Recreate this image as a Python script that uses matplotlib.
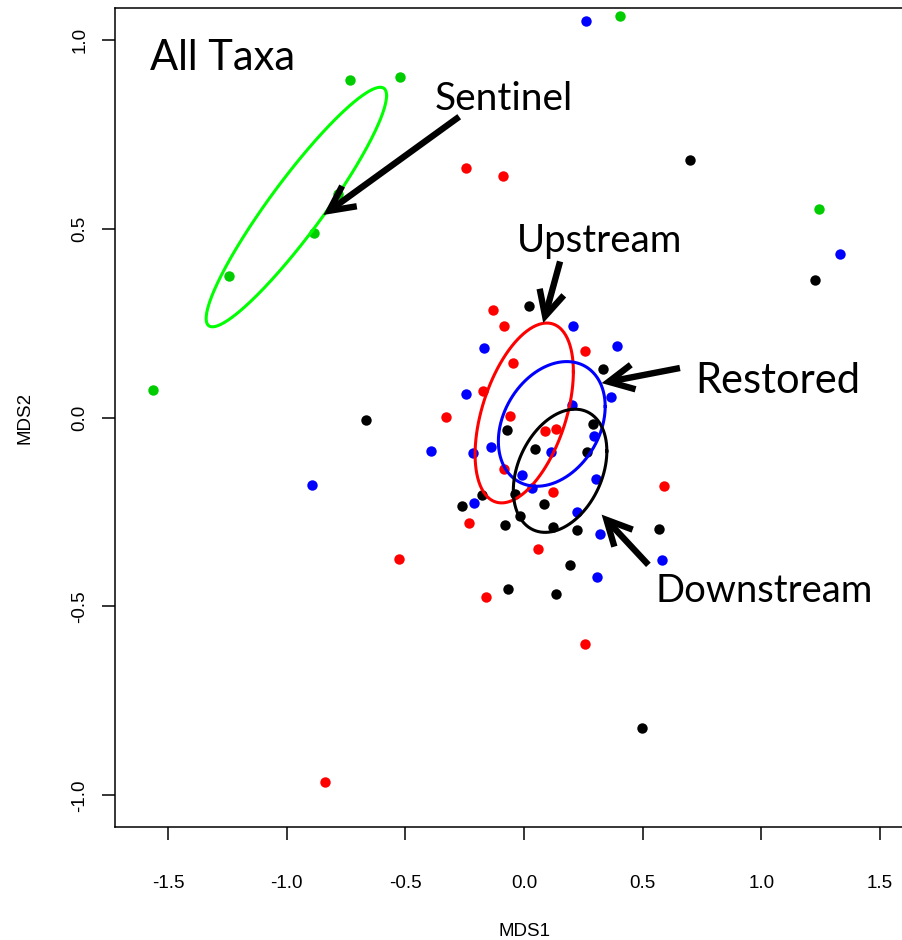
import numpy as np
import matplotlib
matplotlib.use("Agg")
import matplotlib.pyplot as plt
from matplotlib.patches import FancyArrowPatch

# ---------------- data ----------------
sentinel_x = [-0.733, -0.522, -0.782, -0.883, -1.243, -1.564, 0.404, 1.243]
sentinel_y = [0.893, 0.900, 0.591, 0.488, 0.375, 0.072, 1.062, 0.551]

upstream_x = [-0.244, -0.090, -0.132, -0.838, -0.525, -0.084, 0.258, -0.048, -0.174, -0.329,
              -0.059, 0.087, 0.133, -0.084, 0.122, 0.588, -0.233, 0.059, -0.161, 0.257]
upstream_y = [0.660, 0.638, 0.285, -0.964, -0.375, 0.241, 0.176, 0.144, 0.069, 0.002,
              0.003, -0.037, -0.030, -0.136, -0.196, -0.181, -0.279, -0.348, -0.474, -0.600]

restored_x = [0.261, 1.330, -0.893, -0.168, 0.205, 0.392, -0.244, 0.365, 0.201, 0.296, -0.393,
              -0.216, -0.139, 0.112, -0.008, 0.303, 0.034, -0.211, 0.222, 0.321, 0.580, 0.307]
restored_y = [1.049, 0.433, -0.179, 0.184, 0.241, 0.190, 0.062, 0.054, 0.032, -0.048, -0.089,
              -0.095, -0.079, -0.092, -0.152, -0.162, -0.187, -0.226, -0.249, -0.308, -0.378, -0.421]

downstream_x = [0.699, 1.224, -0.667, 0.020, 0.331, 0.289, -0.070, 0.045, 0.264, -0.177, -0.262,
                -0.039, 0.083, -0.017, -0.081, 0.121, 0.223, 0.567, 0.192, -0.069, 0.133, 0.496]
downstream_y = [0.681, 0.363, -0.006, 0.296, 0.128, -0.018, -0.033, -0.084, -0.091, -0.204, -0.234,
                -0.203, -0.229, -0.260, -0.284, -0.291, -0.299, -0.296, -0.391, -0.453, -0.466, -0.822]

# group ellipses: centre, x / y spread and correlation
ell_groups = ["Sentinel", "Upstream", "Restored", "Downstream"]
ell_cx = [-0.959, 0.001, 0.117, 0.152]
ell_cy = [0.557, 0.012, -0.017, -0.141]
ell_sx = [0.380, 0.207, 0.225, 0.197]
ell_sy = [0.317, 0.238, 0.165, 0.163]
ell_rho = [0.93, 0.46, 0.28, 0.32]

x_ticks = [-1.5, -1.0, -0.5, 0.0, 0.5, 1.0, 1.5]
y_ticks = [-1.0, -0.5, 0.0, 0.5, 1.0]

# ---------------- figure ----------------
W, H = 902, 940
fig = plt.figure(figsize=(W / 100, H / 100), dpi=100)
ax = fig.add_axes([115 / W, (H - 826.7) / H, 818 / W, 818.4 / H])
ax.set_xlim(-1.723, 1.723)
ax.set_ylim(-1.083, 1.083)

pt_col = {"Sentinel": "#00CD00", "Upstream": "#FF0000", "Restored": "#0000FF", "Downstream": "#000000"}
ell_col = {"Sentinel": "#00FF00", "Upstream": "#FF0000", "Restored": "#0000FF", "Downstream": "#000000"}

groups = [("Sentinel", sentinel_x, sentinel_y), ("Upstream", upstream_x, upstream_y),
          ("Restored", restored_x, restored_y), ("Downstream", downstream_x, downstream_y)]
for name, xs, ys in groups:
    ax.plot(xs, ys, "o", ms=7.5, mec="none", color=pt_col[name], zorder=2)

t = np.linspace(0, 2 * np.pi, 300)
for g, cx, cy, sx, sy, r in zip(ell_groups, ell_cx, ell_cy, ell_sx, ell_sy, ell_rho):
    phi = np.arccos(r)
    ax.plot(cx + sx * np.cos(t), cy + sy * np.cos(t - phi), color=ell_col[g], lw=2.2, zorder=3)

# annotations
lab_font = "Lato"
ax.text(-1.575, 0.920, "All Taxa", fontsize=30, family=lab_font, ha="left", va="baseline")
labels = [("Sentinel", -0.375, 0.814, 28, (-0.273, 0.796), (-0.845, 0.536)),
          ("Upstream", -0.031, 0.439, 27.6, (0.152, 0.413), (0.081, 0.250)),
          ("Restored", 0.720, 0.065, 30, (0.657, 0.131), (0.327, 0.091)),
          ("Downstream", 0.552, -0.487, 27.5, (0.524, -0.390), (0.327, -0.257))]
for txt, tx, ty, fs, tail, tip in labels:
    ax.text(tx, ty, txt, fontsize=fs, family=lab_font, ha="left", va="baseline", zorder=5)
    arr = FancyArrowPatch(posA=tail, posB=tip, arrowstyle="->,head_length=0.9,head_width=0.45",
                          mutation_scale=20, lw=4.6, color="black", shrinkA=0, shrinkB=0,
                          zorder=4, joinstyle="miter", capstyle="butt")
    ax.add_patch(arr)

# axes styling
ax.set_xticks(x_ticks)
ax.set_yticks(y_ticks)
ax.set_xticklabels([f"{v:.1f}" for v in x_ticks])
ax.set_yticklabels([f"{v:.1f}" for v in y_ticks])
tick_font = "Liberation Sans"
ax.tick_params(axis="both", length=9.7, width=1.1, labelsize=13.5, direction="out")
ax.tick_params(axis="x", pad=25)
ax.tick_params(axis="y", pad=9.5, labelrotation=90)
for lab in ax.get_xticklabels() + ax.get_yticklabels():
    lab.set_family(tick_font)
for lab in ax.get_yticklabels():
    lab.set_va("center")
for s in ax.spines.values():
    s.set_linewidth(1.1)

ax.set_xlabel("MDS1", fontsize=13.5, family=tick_font)
ax.set_ylabel("MDS2", fontsize=13.5, family=tick_font)
ax.xaxis.set_label_coords(0.5, (826.7 - 932) / 818.4)
ax.yaxis.set_label_coords((25 - 115) / 818, 0.5)
ax.xaxis.label.set_va("center")
ax.yaxis.label.set_va("center")

fig.savefig("out.png", dpi=100)
